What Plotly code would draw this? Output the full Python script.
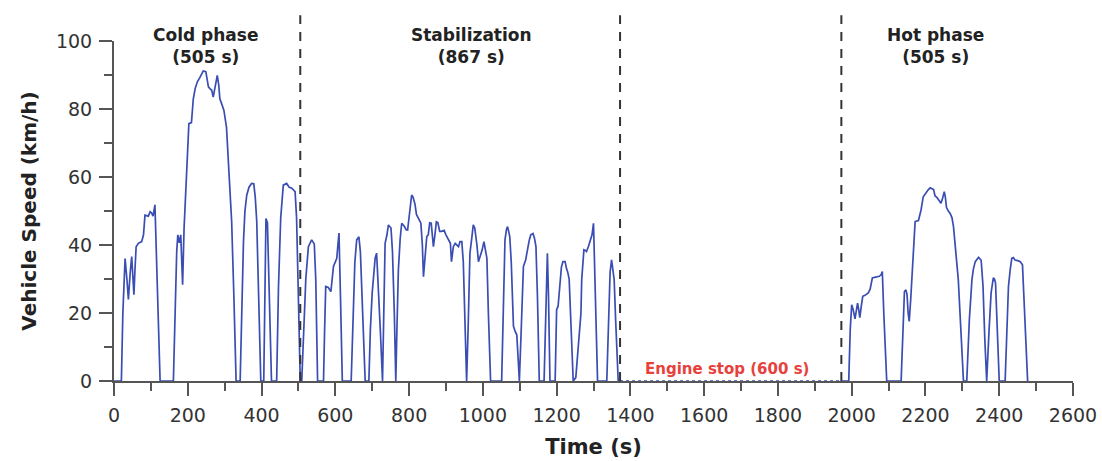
import plotly.graph_objects as go

# ---- data ----
time_s = [0, 20, 24, 30, 35, 39, 44, 48, 51, 54, 57, 60, 66, 75, 80, 84, 93, 98, 102, 106, 111, 113, 118, 125,
          161, 166, 170, 173, 177, 181, 183, 186, 190, 197, 203, 210, 215, 220, 226, 233, 238, 242, 249, 253, 256,
          260, 265, 269, 274, 280, 284, 287, 292, 298, 305, 312, 319, 325, 331, 342, 346, 351, 355, 360, 366, 373,
          379, 383, 387, 392, 398, 406, 409, 412, 416, 420, 427, 441, 446, 452, 459, 468, 475, 482, 491, 495, 500,
          505, 509, 515, 520, 527, 536, 543, 547, 552, 568, 571, 574, 581, 588, 595, 604, 607, 610, 614, 619, 643,
          648, 653, 658, 664, 668, 674, 681, 691, 695, 700, 704, 708, 712, 716, 722, 728, 731, 735, 740, 744, 751,
          755, 760, 764, 767, 771, 776, 780, 787, 792, 796, 801, 807, 811, 816, 820, 825, 832, 836, 839, 843, 848,
          852, 856, 860, 863, 866, 870, 874, 878, 883, 888, 895, 900, 907, 912, 915, 920, 925, 930, 934, 938, 943,
          947, 951, 956, 960, 965, 970, 974, 978, 981, 984, 988, 994, 998, 1003, 1007, 1011, 1015, 1021, 1051,
          1055, 1060, 1064, 1067, 1070, 1073, 1077, 1080, 1083, 1088, 1092, 1096, 1099, 1104, 1110, 1116, 1122,
          1126, 1130, 1136, 1140, 1144, 1148, 1153, 1166, 1170, 1173, 1175, 1178, 1182, 1196, 1200, 1204, 1209,
          1213, 1217, 1223, 1227, 1230, 1234, 1238, 1241, 1245, 1252, 1256, 1259, 1262, 1264, 1266, 1268, 1272,
          1274, 1278, 1281, 1286, 1291, 1296, 1300, 1304, 1308, 1311, 1336, 1341, 1345, 1349, 1352, 1356, 1360,
          1367, 1372,
          None,
          1972, 1992, 1996, 2000, 2004, 2009, 2013, 2016, 2019, 2022, 2026, 2030, 2036, 2045, 2050, 2056, 2062,
          2067, 2075, 2080, 2083, 2087, 2095, 2134, 2138, 2143, 2147, 2150, 2153, 2156, 2160, 2163, 2168, 2172,
          2181, 2188, 2194, 2199, 2203, 2208, 2213, 2218, 2222, 2226, 2231, 2235, 2242, 2247, 2251, 2254, 2257,
          2262, 2267, 2272, 2276, 2283, 2289, 2296, 2303, 2312, 2319, 2326, 2330, 2335, 2340, 2344, 2351, 2356,
          2361, 2366, 2372, 2378, 2384, 2387, 2390, 2395, 2400, 2416, 2420, 2425, 2430, 2434, 2438, 2443, 2450,
          2457, 2463, 2469, 2475, 2477]

speed_kmh = [0, 0, 20, 36, 30, 24, 32, 36.6, 31, 25.4, 33, 39.5, 40.5, 41, 43, 48.8, 48.5, 49.8, 49.4, 48.5, 51.8,
             45, 25, 0,
             0, 22, 38, 43, 40.6, 43, 38, 28.3, 45, 63.5, 75.7, 76, 83, 86, 88, 89.3, 90.5, 91.2, 91, 89, 86.5,
             86, 85.5, 83.5, 86, 89.9, 87, 83, 81.5, 79.6, 74.6, 62, 46.9, 25, 0, 0, 20, 41, 50, 54.7, 57, 58.1,
             58, 54, 46.9, 25, 0, 0, 30, 47.8, 46.5, 30, 0, 0, 28, 48, 57.6, 58.1, 57, 56.7, 55.7, 48, 25,
             0, 0, 15, 30, 39.5, 41.5, 40.3, 30, 0, 0, 15, 27.8, 27.5, 26.3, 33.7, 36.1, 40, 43.5, 25, 0, 0,
             20, 35, 41.5, 42.4, 38, 20, 0, 0, 15, 25.9, 30, 36.1, 37.6, 30, 15, 0, 20, 40.5, 43, 45.9, 45,
             38, 20, 0, 15, 32.7, 42, 46.4, 45.5, 44.5, 44.4, 49, 54.7, 54, 52, 49, 47.9, 46.4, 40, 30.7, 36, 42.5,
             43, 46.5, 46.4, 43, 39.5, 43, 46.8, 46.6, 44, 44, 44.3, 43, 41.5, 40.5, 35.1, 39.5, 40.5, 40, 39.5, 41, 41,
             35, 20, 0, 15, 37.6, 42, 45.9, 45, 43, 40, 35.1, 37, 38.5, 41, 39, 36.1, 20, 0, 0,
             20, 41.5, 44.5, 45.4, 44, 42.5, 35, 25, 16.1, 14.5, 13.6, 6, 0, 15, 33.7, 35.6, 40,
             41.5, 43, 43.4, 42, 39.5, 25, 0, 0, 20, 34, 37.6, 25, 0, 0, 21, 22, 29.8,
             33.5, 35.1, 35.1, 33, 32.1, 30, 18, 6.3, 0, 1, 6, 12.2, 14, 16.6, 20, 29.8, 35,
             38.6, 38.4, 38.1, 39.5, 41, 43, 46.4, 30, 10, 0, 0, 20, 32, 35.6, 33, 29.8, 18,
             0, 0,
             None,
             0, 0, 15, 22.4, 21, 18.3, 21, 22.9, 21, 18.6, 22, 24.9, 25.2, 25.9, 27, 30.3, 30.5,
             30.6, 30.8, 31.3, 32.2, 20, 0, 0, 15, 26.3, 26.8, 25.5, 20, 17.5, 24, 30.7, 40, 46.9,
             47.2, 50.3, 54.2, 55, 55.6, 56.3, 56.8, 56.6, 56.3, 54.4, 54, 53.4, 52.3, 54, 55.7, 54, 51,
             50, 49.3, 48, 45.4, 37, 29.8, 15, 0, 0, 18, 29.8, 33, 35.1, 36, 36.4, 35.5, 28,
             12, 0, 14, 26, 30.3, 30, 28.8, 15, 0, 0, 12, 27.8, 33, 36.1, 36.3, 35.6, 35.4,
             35.1, 34.2, 18, 0, 0]

engine_stop_t = [1372, 1972]
engine_stop_v = [0, 0]

phase_bounds = [505, 1372, 1972]
phase_labels = ["Cold phase<br>(505 s)", "Stabilization<br>(867 s)", "Hot phase<br>(505 s)"]
phase_label_t = [247, 970, 2228]

x_tickvals = list(range(0, 2601, 200))
y_tickvals = list(range(0, 101, 20))

FONT = "DejaVu Sans, sans-serif"
BLUE = "#3a4db2"
AX = "#555555"

fig = go.Figure()
fig.add_trace(go.Scatter(x=time_s, y=speed_kmh, mode="lines",
                         line=dict(color=BLUE, width=1.7), connectgaps=False, showlegend=False))
fig.add_trace(go.Scatter(x=engine_stop_t, y=engine_stop_v, mode="lines",
                         line=dict(color=BLUE, width=1.6, dash="dot"), showlegend=False))

for b in phase_bounds:
    fig.add_shape(type="line", xref="x", yref="paper", x0=b, x1=b, y0=0, y1=1.076,
                  line=dict(color="#333333", width=2, dash="9px,8px"))

for lbl, t in zip(phase_labels, phase_label_t):
    fig.add_annotation(x=t, xref="x", y=0.985, yref="paper", text="<b>%s</b>" % lbl,
                       showarrow=False, yanchor="middle",
                       font=dict(family=FONT, size=17, color="#222222"))

fig.add_annotation(x=1663, xref="x", y=3.5, yref="y", text="<b>Engine stop (600 s)</b>",
                   showarrow=False, yanchor="middle",
                   font=dict(family=FONT, size=15, color="#e8413c"))

fig.update_layout(
    width=1102, height=461,
    margin=dict(l=114, r=29, t=41, b=80),
    plot_bgcolor="white", paper_bgcolor="white",
    font=dict(family=FONT, color="#333333"),
    xaxis=dict(range=[0, 2600], tickvals=x_tickvals, showgrid=False, zeroline=False, automargin=False,
               showline=True, linecolor=AX, linewidth=2,
               ticks="outside", ticklen=13, tickwidth=1.5, tickcolor=AX,
               minor=dict(dtick=100, tick0=0, ticks="outside", ticklen=8, tickwidth=1.5, tickcolor=AX),
               tickfont=dict(size=19, color="#333333"), ticklabelstandoff=3,
               title=dict(text="<b>Time (s)</b>", font=dict(size=21, color="#222222"), standoff=15)),
    yaxis=dict(range=[0, 100], tickvals=y_tickvals, showgrid=False, zeroline=False, automargin=False,
               showline=True, linecolor=AX, linewidth=2,
               ticks="outside", ticklen=13, tickwidth=1.5, tickcolor=AX,
               minor=dict(dtick=10, tick0=0, ticks="outside", ticklen=8, tickwidth=1.5, tickcolor=AX),
               tickfont=dict(size=19, color="#333333"), ticklabelstandoff=3,
               title=dict(text="<b>Vehicle Speed (km/h)</b>", font=dict(size=20, color="#222222"), standoff=14)),
)

fig.write_html("out.html")
